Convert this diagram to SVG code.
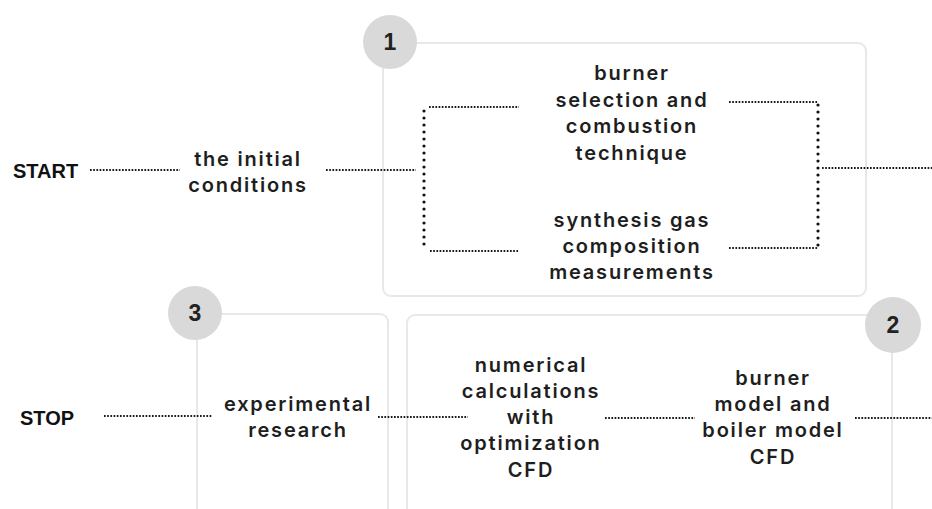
<svg xmlns="http://www.w3.org/2000/svg" width="932" height="509" viewBox="0 0 932 509">
<style>
.box{fill:none;stroke:#e8e8e8;stroke-width:2}
.badge{fill:#d9d9d9}
.num{font-family:"Liberation Sans",Arial,sans-serif;font-weight:bold;font-size:23px;fill:#222;text-anchor:middle}
.term{font-family:"Liberation Sans",Arial,sans-serif;font-weight:bold;font-size:20px;fill:#111}
.lbl{font-family:Inter,"Open Sans",sans-serif;font-weight:600;font-size:20px;letter-spacing:1.8px;fill:#1e1e1e;text-anchor:middle}
.h{fill:none;stroke:#1a1a1a;stroke-width:1.8;stroke-dasharray:1.7 1.5}
.v{fill:none;stroke:#111;stroke-width:3.2;stroke-linecap:round;stroke-dasharray:0 7}
</style>
<rect width="932" height="509" fill="#fff"/>
<g id="stage1">
<rect class="box" x="383" y="43" width="483" height="253" rx="8"/>
<circle class="badge" cx="390" cy="42" r="27"/>
<text class="num" x="390" y="50">1</text>
</g>
<g id="stage3">
<rect class="box" x="197" y="314" width="191" height="230" rx="8"/>
<circle class="badge" cx="195" cy="313" r="27"/>
<text class="num" x="195" y="321">3</text>
</g>
<g id="stage2">
<rect class="box" x="407" y="315" width="485" height="230" rx="8"/>
<circle class="badge" cx="893" cy="325" r="28"/>
<text class="num" x="893" y="333">2</text>
</g>
<g id="start"><text class="term" x="13" y="178">START</text></g>
<g id="stop"><text class="term" x="20" y="425">STOP</text></g>
<g id="initial"><text class="lbl"><tspan x="248" y="166">the initial</tspan><tspan x="248" y="192">conditions</tspan></text></g>
<g id="burner-selection"><text class="lbl"><tspan x="632" y="80">burner</tspan><tspan x="632" y="106.5">selection and</tspan><tspan x="632" y="133">combustion</tspan><tspan x="632" y="159.5">technique</tspan></text></g>
<g id="synthesis"><text class="lbl"><tspan x="632" y="227">synthesis gas</tspan><tspan x="632" y="253">composition</tspan><tspan x="632" y="279">measurements</tspan></text></g>
<g id="experimental"><text class="lbl"><tspan x="298" y="411">experimental</tspan><tspan x="298" y="437">research</tspan></text></g>
<g id="numerical"><text class="lbl"><tspan x="531" y="372">numerical</tspan><tspan x="531" y="398">calculations</tspan><tspan x="531" y="424">with</tspan><tspan x="531" y="450">optimization</tspan><tspan x="531" y="477">CFD</tspan></text></g>
<g id="burner-model"><text class="lbl"><tspan x="773" y="385">burner</tspan><tspan x="773" y="411">model and</tspan><tspan x="773" y="437">boiler model</tspan><tspan x="773" y="464">CFD</tspan></text></g>
<g id="connectors">
<path class="h" d="M90 170H180"/>
<path class="h" d="M326 170H416"/>
<path class="v" d="M424 111V249"/>
<path class="h" d="M429 107H519"/>
<path class="h" d="M430 251H519"/>
<path class="h" d="M729 102H818"/>
<path class="h" d="M729 248H818"/>
<path class="v" d="M818 105V246"/>
<path class="h" d="M822 168H932"/>
<path class="h" d="M104 416H212"/>
<path class="h" d="M378 417H468"/>
<path class="h" d="M605 418H695"/>
<path class="h" d="M855 418H932"/>
</g>
</svg>
